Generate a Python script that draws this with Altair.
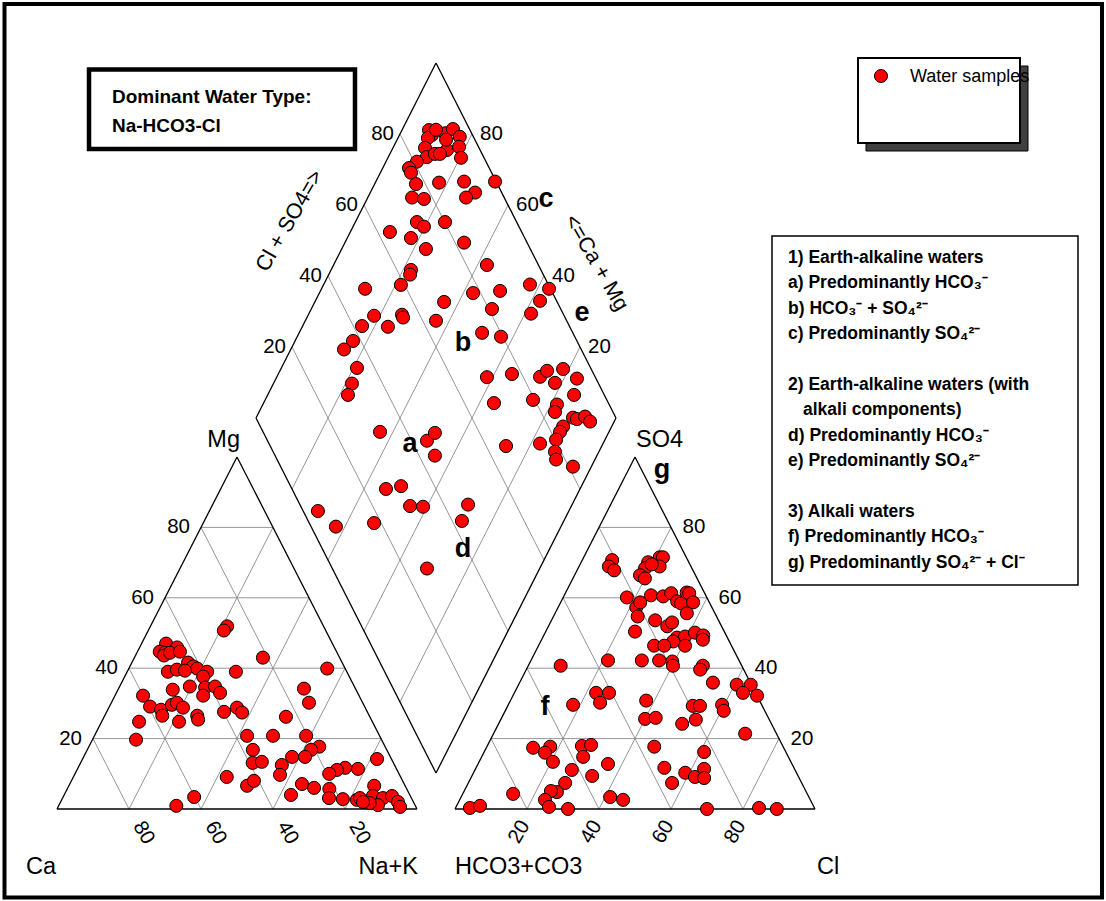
import altair as alt
import pandas as pd

# ------------------------------------------------------------------ data
# Cation triangle (% meq/l): Mg and Na+K  (Ca = 100 - Mg - Na+K)
cation_mg = [51.9, 50.7, 47.0, 45.9, 44.7, 44.4, 43.6, 44.4, 44.7, 41.6, 40.5, 39.9, 39.0, 37.6,
             34.5, 32.2, 34.8, 33.0, 34.8, 33.9, 39.0, 39.6, 39.3, 43.0, 39.0, 39.9, 32.2, 29.1,
             28.2, 26.5, 29.6, 30.2, 28.8, 26.5, 25.4, 24.8, 24.8, 19.7, 27.6, 28.8, 27.4, 34.2,
             30.2, 26.2, 20.8, 20.8, 20.8, 17.7, 16.8, 16.8, 13.1, 13.4, 12.5, 9.7, 14.8, 14.8,
             9.1, 6.6, 8.0, 3.4, 0.9, 14.2, 11.4, 11.7, 11.1, 10.0, 7.1, 4.0, 6.0, 5.7, 3.1, 2.8,
             2.6, 3.1, 6.6, 3.7, 3.1, 3.7, 2.0, 0.6, 1.1, 1.7, 2.0]
cation_nak = [21.3, 21.0, 6.8, 10.4, 6.2, 7.8, 7.9, 9.2, 11.8, 15.6, 17.6, 19.0, 22.2, 21.8,
              23.9, 24.5, 26.5, 28.8, 19.5, 15.2, 11.3, 13.5, 15.9, 35.7, 30.2, 55.1, 7.8, 11.3,
              14.8, 16.0, 17.1, 18.2, 20.6, 25.7, 26.5, 21.5, 10.4, 12.1, 32.6, 35.6, 37.7, 51.5,
              54.9, 50.5, 42.4, 49.6, 58.8, 64.0, 62.2, 46.0, 47.8, 50.2, 56.2, 57.1, 57.9, 61.5,
              42.6, 49.5, 50.7, 36.4, 32.7, 81.8, 77.9, 74.2, 72.2, 70.6, 64.5, 63.0, 68.4, 72.8,
              74.0, 78.0, 82.0, 82.6, 84.8, 85.9, 89.0, 91.2, 93.7, 95.0, 88.6, 86.0, 84.0]

# Anion triangle (% meq/l): SO4 and Cl  (HCO3+CO3 = 100 - SO4 - Cl)
anion_so4 = [70.7, 68.9, 67.8, 70.1, 68.4, 66.4, 65.5, 71.5, 71.5, 68.9, 69.5,
             60.1, 57.3, 54.7, 58.7, 60.7, 60.4, 61.3, 59.0, 58.4, 61.5, 61.3, 58.7, 55.6,
             53.6, 51.9, 53.0, 50.4, 48.7, 49.0, 50.1, 49.3, 48.1, 46.4, 47.6, 46.4, 46.4,
             42.2, 42.2, 41.9, 40.7, 42.2, 40.7, 40.7, 39.6, 35.9, 35.3, 35.3, 33.0, 32.2,
             33.0, 33.0, 30.2, 29.6, 30.8, 25.6, 25.9, 29.3, 29.3, 25.4, 24.2, 29.6, 27.9, 21.4,
             17.4, 17.7, 16.0, 13.4, 17.9, 18.2, 14.8, 12.8, 11.1, 9.4,
             17.7, 11.7, 7.4, 10.3, 9.1, 11.4, 8.8, 16.2,
             7.4, 4.8, 5.1, 2.6, 0.6, 0.0, 4.3, 0.3, 0.9, 3.4, 2.6, 0.0, 0.3, 0.0]
anion_cl = [8.3, 8.3, 10.3, 18.6, 18.6, 18.2, 20.0, 21.1, 22.0, 22.4, 19.9,
            17.7, 21.7, 23.4, 22.1, 24.1, 27.6, 29.4, 32.2, 33.6, 33.6, 34.4, 36.8, 36.6,
            28.8, 33.0, 33.8, 24.8, 37.3, 39.4, 41.6, 44.3, 44.8, 40.7, 36.8, 32.1, 34.9,
            30.8, 35.6, 39.4, 40.2, 21.4, 9.0, 48.5, 48.3, 53.7, 60.6, 64.5, 63.5, 67.8,
            22.7, 26.3, 25.2, 18.0, 37.7, 40.0, 42.8, 51.4, 53.4, 54.2, 51.0, 59.4, 60.7, 69.9,
            13.0, 17.6, 17.0, 20.5, 26.3, 28.7, 28.2, 36.1, 26.9, 33.4,
            46.5, 52.3, 56.6, 58.8, 62.1, 63.5, 64.8, 61.1,
            26.9, 25.9, 24.1, 23.7, 25.8, 31.4, 14.0, 4.0, 6.5, 41.4, 45.4, 70.0, 84.3, 89.4]

# Diamond: Cl+SO4 and Ca+Mg (%)
diamond_cl_so4 = [88.6, 88.7, 87.2, 92.6, 95.4, 96.2, 85.0, 84.2, 86.9, 90.8, 94.6, 93.6, 80.8,
                  77.7, 77.6, 77.4, 84.0, 91.1, 92.6, 89.4, 99.7, 74.4, 77.5, 72.3, 73.6, 80.1,
                  90.6, 88.3, 92.0, 63.4, 68.4, 71.0, 82.5, 85.7, 63.9, 63.0, 59.0, 48.5, 68.6,
                  63.7, 77.9, 85.7, 80.9, 74.8, 79.5, 94.9, 99.6, 95.4, 91.1, 55.1, 55.0, 47.2,
                  49.5, 42.4, 37.8, 34.1, 35.1, 31.5, 28.8, 69.9, 77.3, 84.7, 87.5, 92.2, 88.0,
                  94.7, 91.6, 68.2, 79.5, 85.5, 83.9, 88.1, 89.0, 91.6, 92.3, 84.1, 82.5, 80.3,
                  75.3, 78.3, 77.5, 81.2, 65.5, 32.5, 44.3, 47.6, 44.4, 26.1, 30.7, 30.4, 33.9,
                  4.1, 6.9, 18.0, 26.3, 46.7, 42.7]
diamond_ca_mg = [92.5, 91.0, 91.7, 87.6, 86.0, 83.0, 91.1, 89.3, 87.5, 84.7, 81.8, 79.7, 91.4,
                 92.7, 91.5, 88.5, 82.3, 75.5, 70.9, 72.7, 66.9, 87.7, 84.2, 82.9, 80.3, 75.1,
                 90.6, 86.1, 86.4, 89.0, 82.3, 76.6, 66.9, 57.4, 77.8, 77.4, 78.5, 87.9, 64.1,
                 63.7, 57.3, 50.1, 49.8, 49.2, 43.4, 42.7, 36.8, 37.6, 38.3, 74.0, 73.3, 81.6,
                 76.2, 83.5, 83.9, 85.2, 79.0, 78.2, 77.7, 41.6, 35.1, 26.9, 25.8, 21.6, 21.9,
                 16.4, 14.9, 36.0, 25.6, 18.3, 17.8, 12.0, 10.7, 8.8, 6.7, 13.5, 13.6, 13.6,
                 17.5, 12.2, 10.8, 5.1, 26.6, 63.6, 49.3, 48.2, 45.0, 53.9, 50.1, 44.8, 41.1,
                 69.7, 62.5, 52.4, 31.3, 28.9, 28.3]

tick_values = [20, 40, 60, 80]

region_letters = ["a", "b", "c", "d", "e", "f", "g"]

legend_lines = [
    "1) Earth-alkaline waters",
    "a) Predominantly HCO\u2083\u207b",
    "b) HCO\u2083\u207b + SO\u2084\u00b2\u207b",
    "c) Predominantly SO\u2084\u00b2\u207b",
    "",
    "2) Earth-alkaline waters (with",
    "  alkali components)",
    "d) Predominantly HCO\u2083\u207b",
    "e) Predominantly SO\u2084\u00b2\u207b",
    "",
    "3) Alkali waters",
    "f) Predominantly HCO\u2083\u207b",
    "g) Predominantly SO\u2084\u00b2\u207b + Cl\u207b",
]

# ------------------------------------------------------------------ layout
W, H = 1106, 901
PXU, PYU = 3.6, 3.52          # pixels per plot unit (x, y)
OX, OY = 57, 809              # pixel position of the Ca corner
GAP = 10.556
R0 = 100 + GAP                # left corner of anion triangle
BX, BY = 100 + GAP / 2, 10.23 # bottom vertex of diamond
DW, DH = 50.0, 100.85
FONT = "Liberation Sans"


def ux(px):
    return (px - OX) / PXU


def uy(py):
    return (OY - py) / PYU


def cat_xy(mg, nak):
    return nak + mg / 2.0, mg


def an_xy(so4, cl):
    return R0 + cl + so4 / 2.0, so4


def dia_xy(u, v):
    return BX + (u - v) * DW / 100.0, BY + (u + v) * DH / 100.0


XS = alt.Scale(domain=[ux(0), ux(W)], nice=False, zero=False)
YS = alt.Scale(domain=[uy(H), uy(0)], nice=False, zero=False)


def ex():
    return alt.X("x:Q", scale=XS, axis=None)


def ey():
    return alt.Y("y:Q", scale=YS, axis=None)


# ---- grid and outline segments
grid, edges = [], []


def seg(lst, p, q):
    lst.append({"x": p[0], "y": p[1], "x2": q[0], "y2": q[1]})


for k in tick_values:
    seg(grid, cat_xy(k, 0), cat_xy(k, 100 - k))
    seg(grid, cat_xy(0, k), cat_xy(100 - k, k))
    seg(grid, cat_xy(0, 100 - k), cat_xy(100 - k, 0))
    seg(grid, an_xy(k, 0), an_xy(k, 100 - k))
    seg(grid, an_xy(0, k), an_xy(100 - k, k))
    seg(grid, an_xy(0, 100 - k), an_xy(100 - k, 0))
    seg(grid, dia_xy(k, 0), dia_xy(k, 100))
    seg(grid, dia_xy(0, k), dia_xy(100, k))

for f in (cat_xy, an_xy):
    a, b, c = f(0, 0), f(0, 100), f(100, 0)
    seg(edges, a, b)
    seg(edges, b, c)
    seg(edges, c, a)
dv = [dia_xy(0, 0), dia_xy(100, 0), dia_xy(100, 100), dia_xy(0, 100)]
for i in range(4):
    seg(edges, dv[i], dv[(i + 1) % 4])

grid_df = pd.DataFrame(grid)
edge_df = pd.DataFrame(edges)

# ---- sample points
pts = []
for mg, nak in zip(cation_mg, cation_nak):
    x, y = cat_xy(mg, nak)
    pts.append({"x": x, "y": y})
for so4, cl in zip(anion_so4, anion_cl):
    x, y = an_xy(so4, cl)
    pts.append({"x": x, "y": y})
for u, v in zip(diamond_cl_so4, diamond_ca_mg):
    x, y = dia_xy(u, v)
    pts.append({"x": x, "y": y})
pts_df = pd.DataFrame(pts)

# ---- tick labels
lab_left, lab_right, lab_cat_bottom, lab_an_bottom = [], [], [], []
for k in tick_values:
    x, y = cat_xy(k, 0)
    lab_left.append({"x": x - 11 / PXU, "y": y, "t": str(k)})
    x, y = an_xy(k, 100 - k)
    lab_right.append({"x": x + 11.5 / PXU, "y": y, "t": str(k)})
    x, y = cat_xy(0, 100 - k)          # Ca = k on the base
    lab_cat_bottom.append({"x": x + 9 / PXU, "y": y - 14 / PYU, "t": str(k)})
    x, y = an_xy(0, k)                 # Cl = k on the base
    lab_an_bottom.append({"x": x - 2 / PXU, "y": y - 13 / PYU, "t": str(k)})
    x, y = dia_xy(k, 100)              # Cl+SO4 on upper-left edge
    lab_left.append({"x": x - 6 / PXU, "y": y, "t": str(k)})
    x, y = dia_xy(100, k)              # Ca+Mg on upper-right edge
    lab_right.append({"x": x + 8 / PXU, "y": y, "t": str(k)})


def text_layer(rows, size=20.5, align="left", angle=0, weight="normal", baseline="middle",
               font=FONT, color="black"):
    df = pd.DataFrame(rows)
    return alt.Chart(df).mark_text(
        font=font, fontSize=size, align=align, angle=angle, fontWeight=weight,
        baseline=baseline, color=color
    ).encode(x=ex(), y=ey(), text="t:N")


def rect_layer(x1, y1, x2, y2, fill, stroke, sw):
    df = pd.DataFrame([{"x": ux(x1), "y": uy(y1), "x2": ux(x2), "y2": uy(y2)}])
    return alt.Chart(df).mark_rect(fill=fill, stroke=stroke, strokeWidth=sw).encode(
        x=ex(), y=ey(), x2="x2:Q", y2="y2:Q")


layers = []
layers.append(rect_layer(4.5, 4, 1102, 897.5, "white", "black", 4))
layers.append(alt.Chart(grid_df).mark_rule(color="#8a8a8a", strokeWidth=0.9).encode(
    x=ex(), y=ey(), x2="x2:Q", y2="y2:Q"))
layers.append(alt.Chart(edge_df).mark_rule(color="black", strokeWidth=1.3).encode(
    x=ex(), y=ey(), x2="x2:Q", y2="y2:Q"))
layers.append(alt.Chart(pts_df).mark_circle(
    size=170, fill="#ff0000", stroke="black", strokeWidth=1, opacity=1, fillOpacity=1
).encode(x=ex(), y=ey()))

layers.append(text_layer(lab_left, align="right"))
layers.append(text_layer(lab_right, align="left"))
layers.append(text_layer(lab_cat_bottom, align="left", angle=60))
layers.append(text_layer(lab_an_bottom, align="right", angle=300))

# ---- axis titles
titles = [
    {"x": ux(26), "y": uy(874), "t": "Ca", "a": "left"},
    {"x": ux(418), "y": uy(874), "t": "Na+K", "a": "right"},
    {"x": ux(455), "y": uy(874), "t": "HCO3+CO3", "a": "left"},
    {"x": ux(817), "y": uy(874), "t": "Cl", "a": "left"},
    {"x": ux(240), "y": uy(447), "t": "Mg", "a": "right"},
    {"x": ux(636), "y": uy(447), "t": "SO4", "a": "left"},
]
for a in ("left", "right"):
    layers.append(text_layer([r for r in titles if r["a"] == a], size=23.5, align=a,
                             baseline="alphabetic"))
layers.append(text_layer([{"x": ux(290), "y": uy(221), "t": "Cl + SO4=>"}], size=21.5,
                         align="center", angle=300))
layers.append(text_layer([{"x": ux(596), "y": uy(263), "t": "<=Ca + Mg"}], size=21.5,
                         align="center", angle=60))

# ---- region letters
letter_px = [(410, 444), (463, 343), (546, 199), (463, 549), (582, 313), (545, 707), (662, 470)]
layers.append(text_layer([{"x": ux(p[0]), "y": uy(p[1]), "t": t}
                          for t, p in zip(region_letters, letter_px)],
                         size=27, align="center", weight="bold"))

# ---- dominant water type box
layers.append(rect_layer(89, 69.5, 355, 149, "white", "black", 4.5))
layers.append(text_layer([{"x": ux(112), "y": uy(97), "t": "Dominant Water Type:"},
                          {"x": ux(112), "y": uy(126), "t": "Na-HCO3-Cl"}],
                         size=19, weight="bold"))

# ---- legend box with shadow
layers.append(rect_layer(866, 66, 1028, 151, "#404040", "black", 1))
layers.append(rect_layer(858, 58, 1020, 143, "white", "black", 2))
layers.append(alt.Chart(pd.DataFrame([{"x": ux(881), "y": uy(76)}])).mark_circle(
    size=170, fill="#ff0000", stroke="black", strokeWidth=1, opacity=1
).encode(x=ex(), y=ey()))
layers.append(text_layer([{"x": ux(910), "y": uy(77), "t": "Water samples"}], size=18))

# ---- classification box
layers.append(rect_layer(772, 236, 1078, 585, "white", "black", 1.5))
rows = []
for i, line in enumerate(legend_lines):
    if not line:
        continue
    xpx = 803 if line.startswith("  ") else 788
    rows.append({"x": ux(xpx), "y": uy(258 + 25.4 * i), "t": line.strip()})
layers.append(text_layer(rows, size=17.5, weight="bold"))

chart = alt.layer(*layers).properties(
    width=W, height=H, padding=0, autosize="none", background="white"
).configure_view(stroke=None)

chart.save("out.html", embed_options={"renderer": "svg", "actions": False})
